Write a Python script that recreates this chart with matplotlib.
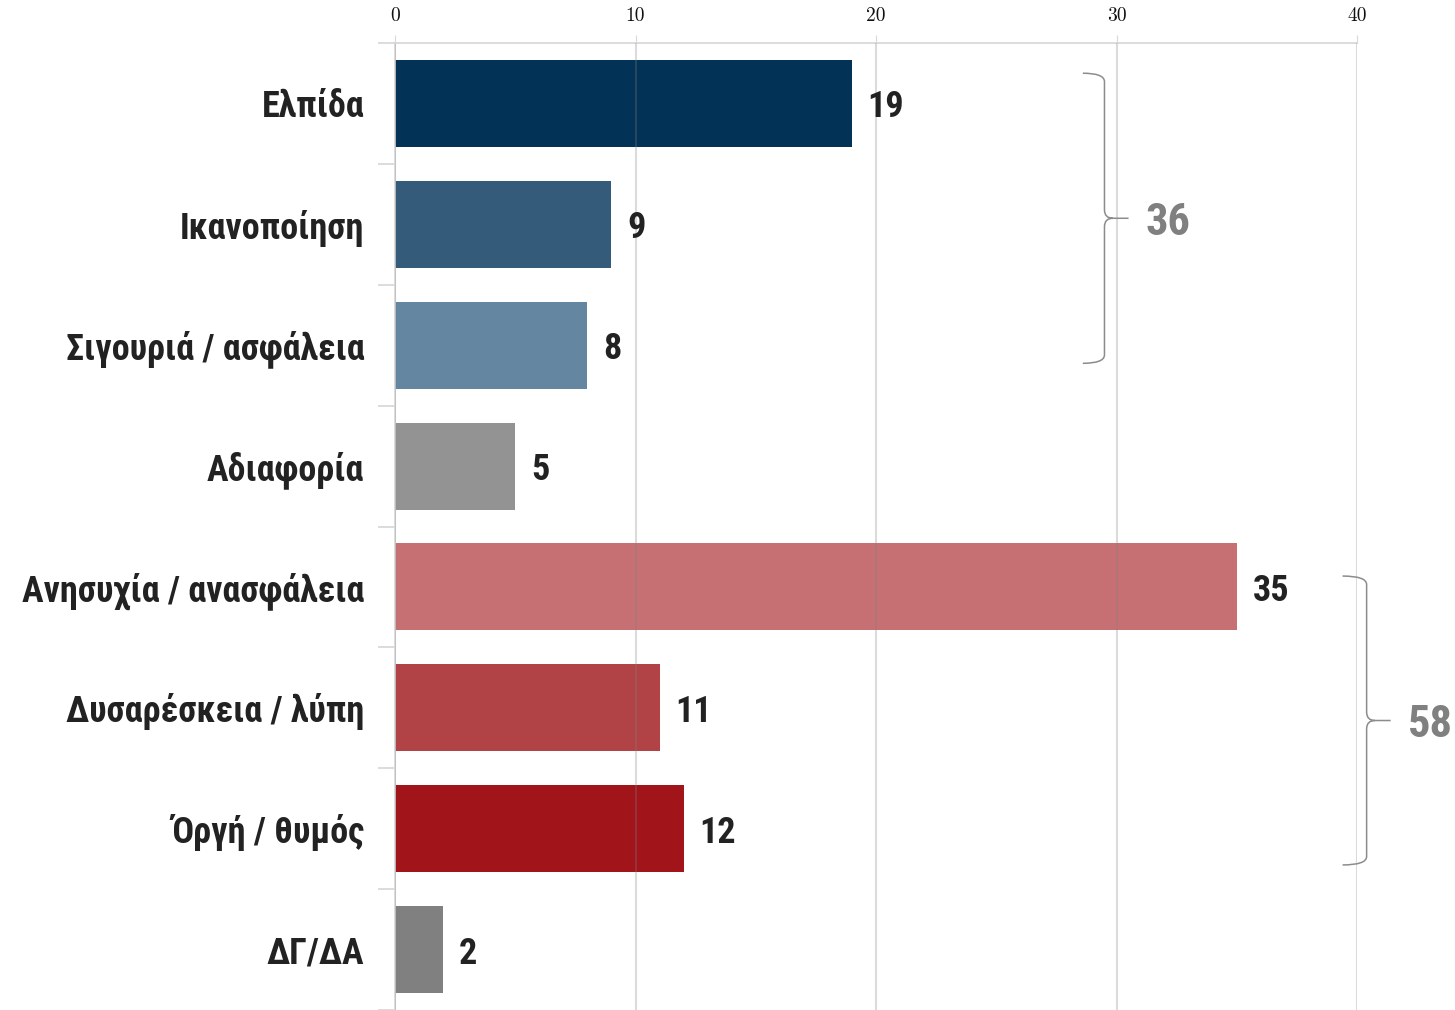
import matplotlib
matplotlib.use("Agg")
from matplotlib import pyplot as plt
from matplotlib.path import Path
from matplotlib.patches import PathPatch
from matplotlib import font_manager

categories = ["Ελπίδα", "Ικανοποίηση", "Σιγουριά / ασφάλεια", "Αδιαφορία",
              "Ανησυχία / ανασφάλεια", "Δυσαρέσκεια / λύπη", "Όργή / θυμός", "ΔΓ/ΔΑ"]
values = [19, 9, 8, 5, 35, 11, 12, 2]
colors = ["#023356", "#345b7a", "#6586a0", "#939393",
          "#c67073", "#b14245", "#a0141a", "#808080"]
x_ticks = [0, 10, 20, 30, 40]

# groups shown with a brace: (first index, last index, total)
groups = [(0, 2, 36), (4, 6, 58)]

names = {f.name for f in font_manager.fontManager.ttflist}
sans = [f for f in ["Roboto Condensed", "Liberation Sans Narrow", "DejaVu Sans"] if f in names]
serif = [f for f in ["cmr10", "DejaVu Serif"] if f in names]

fig = plt.figure(figsize=(14.55, 10.10), dpi=100)
ax = fig.add_axes([395 / 1455, 0, 962 / 1455, 1 - 43 / 1010])

ypos = list(range(len(categories)))
ax.barh(ypos, values, height=0.72, color=colors, zorder=2)

ax.set_xlim(0, 40)
ax.set_ylim(len(categories) - 0.5, -0.5)

# value labels
for y, v in zip(ypos, values):
    ax.text(v + 0.65, y, str(v), va="center_baseline", ha="left", fontsize=26,
            fontweight="bold", color="#222222", family=sans, zorder=3)

# x axis on top, serif digits
ax.xaxis.tick_top()
ax.set_xticks(x_ticks)
ax.set_xticklabels([str(t) for t in x_ticks], family=serif, fontsize=14)
ax.tick_params(axis="x", length=6, color="#d9d9d9", pad=7, labelcolor="#111111")
ax.grid(axis="x", color="#808080", alpha=0.28, linewidth=1.5, zorder=4)
ax.set_axisbelow(False)

# y axis: labels at bar centres, tick marks between categories
ax.set_yticks(ypos)
ax.set_yticklabels(categories, family=sans, fontsize=26, fontweight="bold", color="#222222")
ax.tick_params(axis="y", which="major", length=0, pad=22)
ax.set_yticks([y - 0.5 for y in ypos] + [len(categories) - 0.5], minor=True)
ax.tick_params(axis="y", which="minor", length=12, color="#d9d9d9", width=1.3)

for s in ["right", "bottom"]:
    ax.spines[s].set_visible(False)
ax.spines["top"].set_color("#d9d9d9")
ax.spines["left"].set_color("#d9d9d9")
ax.spines["top"].set_linewidth(1.3)
ax.spines["left"].set_linewidth(1.3)


def brace(ax, x0, x1, x2, ytop, ybot, r=0.07, dx=0.35):
    ymid = (ytop + ybot) / 2
    verts = [
        (x0, ytop), (x1, ytop), (x1, ytop + r),
        (x1, ymid - r),
        (x1, ymid), (x1 + dx, ymid),
        (x2, ymid),
        (x1 + dx, ymid), (x1, ymid), (x1, ymid + r),
        (x1, ybot - r),
        (x1, ybot), (x0, ybot),
    ]
    codes = [Path.MOVETO, Path.CURVE3, Path.CURVE3,
             Path.LINETO,
             Path.CURVE3, Path.CURVE3,
             Path.LINETO,
             Path.MOVETO, Path.CURVE3, Path.CURVE3,
             Path.LINETO,
             Path.CURVE3, Path.CURVE3]
    ax.add_patch(PathPatch(Path(verts, codes), fill=False, edgecolor="#8c8c8c",
                           linewidth=1.1, clip_on=False, zorder=5))
    return ymid


# x left end, x vertical, x tip, x label, top offset, bottom offset
brace_geom = {0: (28.6, 29.5, 30.5, 31.2, -0.25, 0.15),
              4: (39.4, 40.4, 41.4, 42.1, -0.09, 0.30)}
for first, last, total in groups:
    x0, x1, x2, xt, dt, db = brace_geom[first]
    ymid = brace(ax, x0, x1, x2, first + dt, last + db)
    ax.text(xt, ymid, str(total), va="center_baseline", ha="left", fontsize=32,
            fontweight="bold", color="#808080", family=sans, clip_on=False)

fig.savefig("out.png", dpi=100)
